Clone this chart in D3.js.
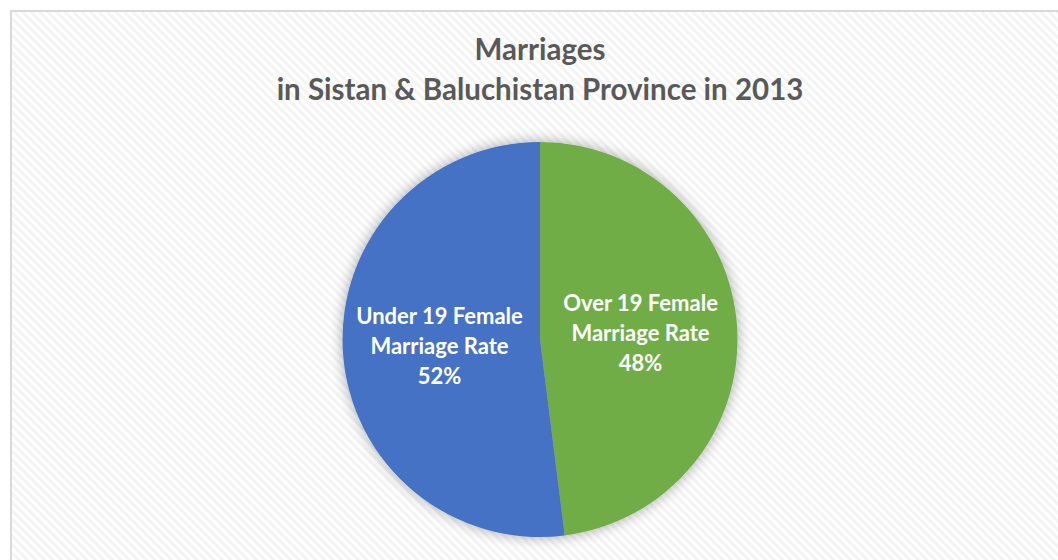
<!DOCTYPE html>
<html>
<head>
<meta charset="utf-8">
<script src="https://cdn.jsdelivr.net/npm/d3@7"></script>
<style>
  body { margin: 0; background: #ffffff; }
  svg { display: block; }
</style>
</head>
<body>
<div id="chart"></div>
<script>
// data
var categories = ["Over 19 Female Marriage Rate", "Under 19 Female Marriage Rate"];
var values = [48, 52];
var labelLines = [["Over 19 Female", "Marriage Rate"], ["Under 19 Female", "Marriage Rate"]];
var colors = ["#70ad47", "#4472c4"];
var titleLines = ["Marriages", "in Sistan & Baluchistan Province in 2013"];

function drawPie() {
  var width = 1058, height = 560;
  var cx = 540, cy = 339.5, radius = 197.5;

  var svg = d3.select("#chart").append("svg")
    .attr("width", width)
    .attr("height", height);

  var defs = svg.append("defs");

  // diagonal hatch of the chart area
  var pattern = defs.append("pattern")
    .attr("id", "hatch")
    .attr("patternUnits", "userSpaceOnUse")
    .attr("width", 6)
    .attr("height", 6)
    .attr("patternTransform", "rotate(-45)");
  pattern.append("rect").attr("width", 6).attr("height", 6).attr("fill", "#ffffff");
  pattern.append("rect").attr("width", 3).attr("height", 6).attr("fill", "#f4f4f4");

  var shadow = defs.append("filter")
    .attr("id", "shadow")
    .attr("x", "-20%").attr("y", "-20%")
    .attr("width", "140%").attr("height", "140%");
  shadow.append("feGaussianBlur").attr("in", "SourceAlpha").attr("stdDeviation", 7);
  shadow.append("feComponentTransfer")
    .append("feFuncA").attr("type", "linear").attr("slope", 0.35);
  var merge = shadow.append("feMerge");
  merge.append("feMergeNode");
  merge.append("feMergeNode").attr("in", "SourceGraphic");

  svg.append("rect")
    .attr("x", 11).attr("y", 11)
    .attr("width", width + 20).attr("height", height + 20)
    .attr("fill", "url(#hatch)")
    .attr("stroke", "#d9d9d9")
    .attr("stroke-width", 2);

  // title
  svg.append("text")
    .attr("x", cx)
    .attr("text-anchor", "middle")
    .attr("font-family", "Lato, 'Open Sans', sans-serif")
    .attr("font-weight", "bold")
    .attr("font-size", 29.5)
    .attr("fill", "#595959")
    .selectAll("tspan")
    .data(titleLines)
    .enter()
    .append("tspan")
    .attr("x", cx)
    .attr("y", function(d, i) { return 60 + i * 40; })
    .text(function(d) { return d; });

  var pie = d3.pie().sort(null).value(function(d) { return d; });
  var arcs = pie(values);
  var arc = d3.arc().innerRadius(0).outerRadius(radius);

  var g = svg.append("g").attr("transform", "translate(" + cx + "," + cy + ")");

  g.append("g")
    .attr("filter", "url(#shadow)")
    .selectAll("path")
    .data(arcs)
    .enter()
    .append("path")
    .attr("d", arc)
    .attr("fill", function(d, i) { return colors[i]; });

  var labelArc = d3.arc().innerRadius(radius * 0.51).outerRadius(radius * 0.51);

  var labels = g.selectAll(".label")
    .data(arcs)
    .enter()
    .append("text")
    .attr("class", "label")
    .attr("text-anchor", "middle")
    .attr("font-family", "Lato, 'Open Sans', sans-serif")
    .attr("font-weight", "bold")
    .attr("font-size", 22)
    .attr("fill", "#ffffff")
    .attr("transform", function(d) {
      var c = labelArc.centroid(d);
      return "translate(" + c[0] + "," + c[1] + ")";
    });

  labels.each(function(d, i) {
    var t = d3.select(this);
    var lines = labelLines[i].concat([values[i] + "%"]);
    lines.forEach(function(line, j) {
      t.append("tspan")
        .attr("x", 0)
        .attr("y", (j - 1) * 30 + 8)
        .text(line);
    });
  });
}

window.onload = drawPie;
</script>
</body>
</html>
